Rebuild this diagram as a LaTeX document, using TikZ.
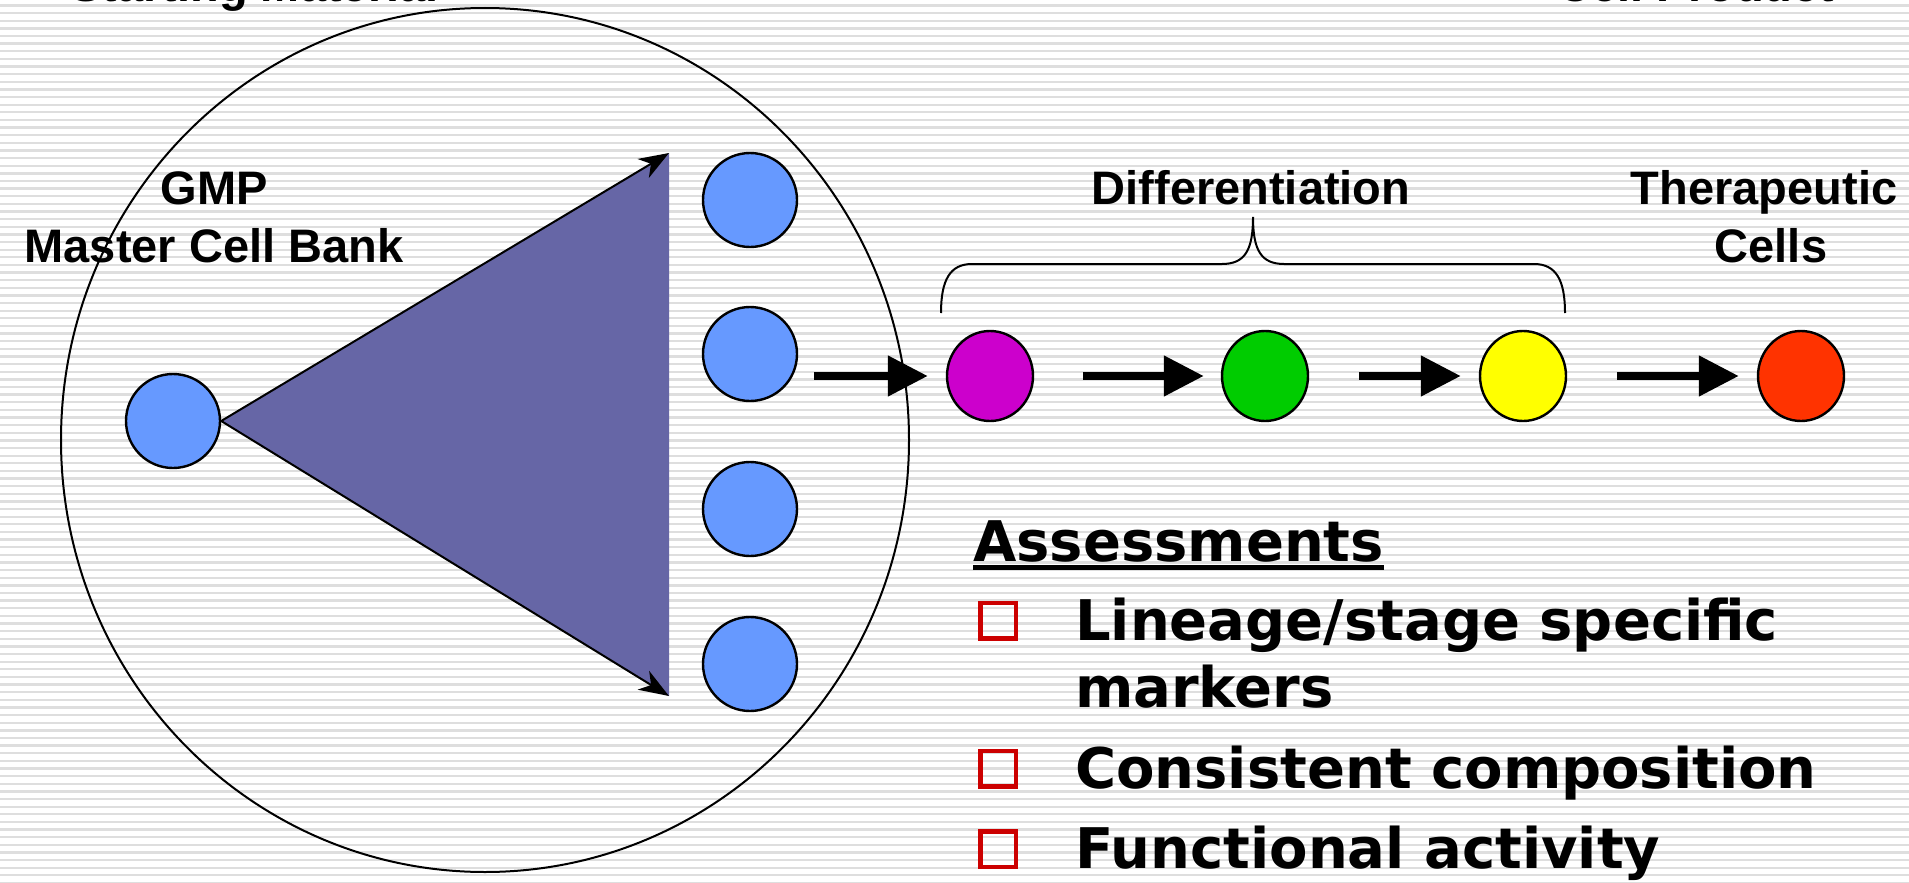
\documentclass[tikz,border=0pt]{standalone}
\usepackage{fontspec}
\setmainfont{Liberation Sans}
\newfontfamily\verd{DejaVu Sans}
\usetikzlibrary{shapes.geometric,arrows.meta}
\definecolor{cellblue}{RGB}{102,153,255}
\definecolor{trifill}{RGB}{102,102,166}
\definecolor{cmag}{RGB}{204,0,204}
\definecolor{cgreen}{RGB}{0,204,0}
\definecolor{cyellow}{RGB}{255,255,0}
\definecolor{cred}{RGB}{255,51,0}
\definecolor{bulred}{RGB}{204,0,0}
\definecolor{stripegray}{RGB}{222,222,222}
\tikzset{
  stripe/.style={draw=stripegray, line width=2.3pt},
  bluecell/.style={circle, draw=black, line width=2.4pt, fill=cellblue, minimum size=94pt, inner sep=0pt},
  diffcell/.style={ellipse, draw=black, line width=2.4pt, minimum width=86pt, minimum height=90pt, inner sep=0pt},
  bigarrow/.style={line width=8pt, -{Triangle[length=40pt,width=39pt]}},
  triedge/.style={line width=2pt, -{Stealth[length=30pt,width=22pt,inset=9pt]}},
  lbl/.style={font=\fontsize{47}{56}\selectfont\bfseries, inner sep=0pt, anchor=base},
  assess/.style={font=\verd\fontsize{56}{67}\selectfont\bfseries, inner sep=0pt, anchor=base west},
  bulletbox/.style={rectangle, draw=bulred, line width=4.5pt, minimum size=35.5pt, inner sep=0pt}
}
\begin{document}
\begin{tikzpicture}[x=1pt,y=-1pt]
\useasboundingbox (0,0) rectangle (1909,883);
\fill[white] (0,0) rectangle (1909,883);
\foreach \i in {0,...,115} \draw[stripe] (0,{5.5+7.63*\i}) -- (1909,{5.5+7.63*\i});

% top labels (cut off)
\node[lbl] (start) at (254.5,2) {Starting Material};
\node[lbl] (prod) at (1696,2) {Cell Product};

% big circle
\node[draw=black, line width=2pt, ellipse, minimum width=848pt, minimum height=864pt, inner sep=0pt] (bigc) at (485,440) {};

% source cell and triangle
\node[bluecell] (src) at (173,421) {};
\coordinate (ttop) at (669,153);
\coordinate (tbot) at (669,696);
\fill[trifill] (src.east) -- (ttop) -- (tbot) -- cycle;
\draw[triedge] (src.east) -- (ttop);
\draw[triedge] (src.east) -- (tbot);

% expanded cells
\node[bluecell] (b1) at (750,200) {};
\node[bluecell] (b2) at (750,354) {};
\node[bluecell] (b3) at (750,509) {};
\node[bluecell] (b4) at (750,664) {};

% differentiation cells
\node[diffcell, fill=cmag] (mag) at (990,376) {};
\node[diffcell, fill=cgreen] (grn) at (1265,376) {};
\node[diffcell, fill=cyellow] (yel) at (1523,376) {};
\node[diffcell, fill=cred] (red) at (1801,376) {};

\draw[bigarrow, shorten <=16pt, shorten >=18pt] (b2.east |- mag.west) -- (mag.west);
\draw[bigarrow, shorten <=49pt, shorten >=17pt] (mag.east) -- (grn.west);
\draw[bigarrow, shorten <=50pt, shorten >=18pt] (grn.east) -- (yel.west);
\draw[bigarrow, shorten <=50pt, shorten >=18pt] (yel.east) -- (red.west);

% brace
\coordinate (brL) at (941,313);
\coordinate (brR) at (1565,313);
\coordinate (brC) at (1253,217);
\draw[line width=2pt] (brL) .. controls (941,280) and (950,264) .. (972,264) -- (1222,264)
  .. controls (1245,264) and (1253,250) .. (brC)
  .. controls (1253,250) and (1261,264) .. (1284,264) -- (1534,264)
  .. controls (1556,264) and (1565,280) .. (brR);

% labels
\node[lbl] (gmp) at (214,204) {GMP};
\node[lbl] (mcb) at (214,262) {Master Cell Bank};
\node[lbl] (diff) at (1251,204) {Differentiation};
\node[lbl] (ther) at (1764,204) {Therapeutic};
\node[lbl] (cells) at (1771,262) {Cells};

% assessments
\node[assess] (ass) at (973,561) {Assessments};
\draw[line width=5pt] ([yshift=-6.5pt]ass.base west) -- ([yshift=-6.5pt]ass.base east);
\node[bulletbox] (q1) at (998,620.5) {};
\node[bulletbox] (q2) at (998,768.5) {};
\node[bulletbox] (q3) at (998,849) {};
\node[assess] (t1) at (1075,640) {Lineage/stage specific};
\node[assess] (t1b) at (1075,707) {markers};
\node[assess] (t2) at (1075,788) {Consistent composition};
\node[assess] (t3) at (1075,868) {Functional activity};
\end{tikzpicture}
\end{document}
